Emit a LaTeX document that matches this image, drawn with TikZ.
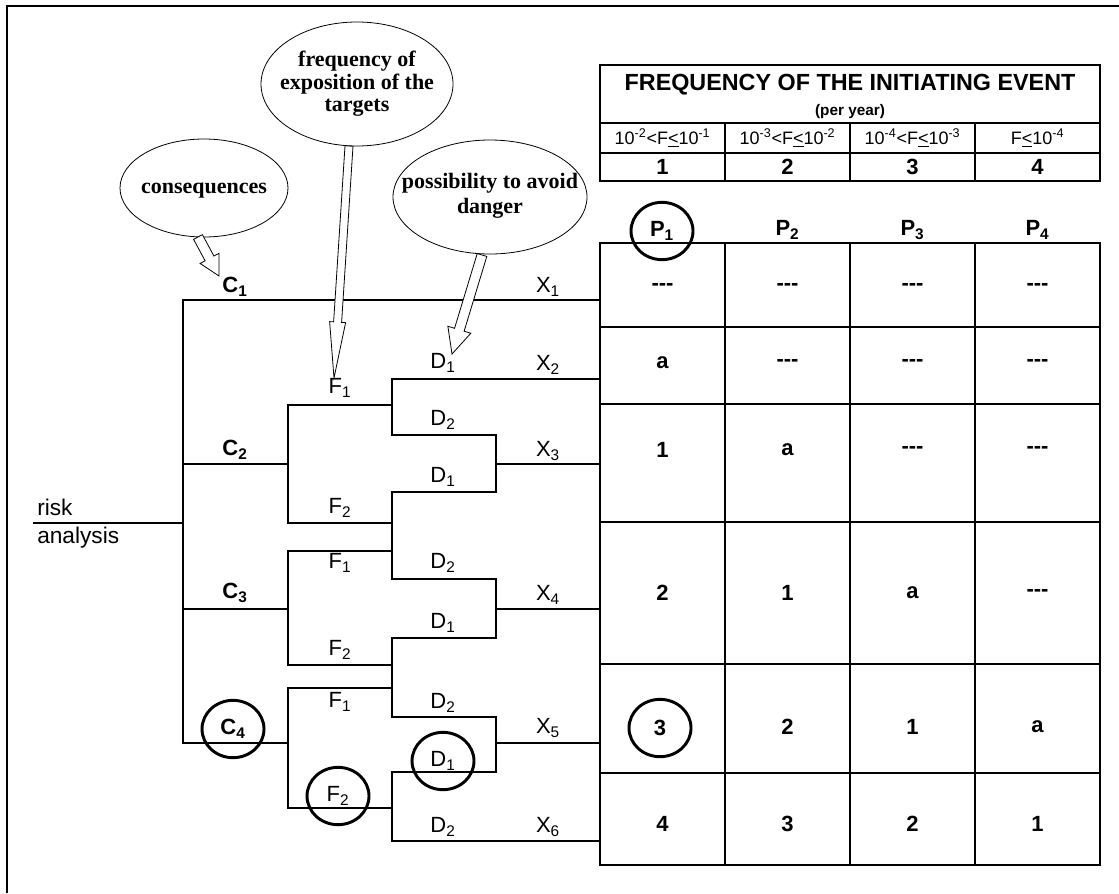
\documentclass[tikz,border=0pt]{standalone}
\usepackage{fontspec}
\setmainfont{Liberation Sans}
\newfontfamily\tms{Liberation Serif}
\usetikzlibrary{calc,shapes.geometric}
\newcommand\myfs[1]{\fontsize{#1}{#1}\selectfont}
\newcommand\myfsb[2]{\fontsize{#1}{#2}\selectfont}
\newcommand\dsh{-\kern0pt-\kern0pt-}
\newcommand\lee{\underline{<}}
\newcommand\blockarrow[5]{%
  \coordinate (bah) at ($(#2)!#5!(#1)$);
  \draw[harrow] ($(#1)!#3!90:(#2)$) -- ($(bah)!#3!90:(#2)$) -- ($(bah)!#4!90:(#2)$) -- (#2)
    -- ($(bah)!#4!-90:(#2)$) -- ($(bah)!#3!-90:(#2)$) -- ($(#1)!#3!-90:(#2)$) -- cycle;}
\tikzset{
  tree/.style={line width=1.8pt, line cap=rect},
  grid/.style={line width=1.5pt, line cap=rect},
  frame/.style={line width=2pt},
  lbl/.style={inner sep=0pt, font=\myfs{16.5}},
  blbl/.style={inner sep=0pt, font=\myfs{16.5}\bfseries},
  ring/.style={draw, ellipse, line width=2.2pt, minimum width=46.5pt, minimum height=43pt, inner sep=0pt},
  bubble/.style={inner sep=0pt, align=center, font=\tms\bfseries\myfs{16.5}},
  bubbleline/.style={line width=0.6pt},
  harrow/.style={draw, line width=0.6pt, fill=white},
  rng/.style={inner sep=0pt, font=\myfs{13.5}},
}
\begin{document}
\begin{tikzpicture}[x=0.75pt,y=-0.75pt]
\useasboundingbox (0,0) rectangle (1119,893);
% outer frame
\draw[frame] (7,893) -- (7,6) -- (1119,6);

% ---------- bubbles ----------
\node[bubble] (cons) at (204,191) {consequences};
\draw[bubbleline] (204,188) ellipse (84 and 49);
\node[bubble, font=\tms\bfseries\myfsb{16.5}{17}] (freq) at (357,84) {frequency of\\exposition of the\\targets};
\draw[bubbleline] (357,84) ellipse (96 and 62);
\node[bubble, font=\tms\bfseries\myfsb{16.5}{19}] (poss) at (490,196) {possibility to avoid\\danger};
\draw[bubbleline] (490,197) ellipse (97 and 57);

% ---------- tree ----------
\coordinate (cTop) at (183,300);
\coordinate (cBot) at (183,743);
\coordinate (riskL) at (34,523);
\coordinate (riskR) at (183,523);
\draw[tree] (riskL) -- (riskR);
\node[lbl, anchor=west, font=\myfs{17}] (risk) at (37,507) {risk};
\node[lbl, anchor=west, font=\myfs{17}] (analysis) at (37,538) {analysis};
\draw[tree] (cTop) -- (cBot);

% C1 branch
\coordinate (x1e) at (600,300);
\draw[tree] (cTop) -- (x1e);
% C branches
\draw[tree] (183,464) coordinate (c2s) -- (288,464) coordinate (c2e);
\draw[tree] (183,609) coordinate (c3s) -- (288,609) coordinate (c3e);
\draw[tree] (183,743) coordinate (c4s) -- (288,743) coordinate (c4e);
% F levels
\draw[tree] (392,405) -- (288,405) -- (288,523) -- (392,523);
\draw[tree] (392,551) -- (288,551) -- (288,665) -- (392,665);
\draw[tree] (392,688) -- (288,688) -- (288,808) -- (392,808);
% D levels
\draw[tree] (600,379) -- (392,379) -- (392,435) -- (496,435);
\draw[tree] (496,492) -- (392,492) -- (392,579) -- (496,579);
\draw[tree] (496,638) -- (392,638) -- (392,717) -- (496,717);
\draw[tree] (496,772) -- (392,772) -- (392,841) -- (600,841);
% X merges
\draw[tree] (496,435) -- (496,492);
\draw[tree] (496,464) -- (600,464);
\draw[tree] (496,579) -- (496,638);
\draw[tree] (496,609) -- (600,609);
\draw[tree] (496,717) -- (496,772);
\draw[tree] (496,743) -- (600,743);

% C labels
\node[blbl] (C1) at (235,287) {C\textsubscript{1}};
\node[blbl] (C2) at (235,450) {C\textsubscript{2}};
\node[blbl] (C3) at (235,593) {C\textsubscript{3}};
\node[blbl, ring] (C4) at (233,729) {C\textsubscript{4}};
% F labels
\node[lbl] (F1a) at (340,388) {F\textsubscript{1}};
\node[lbl] (F2a) at (340,508) {F\textsubscript{2}};
\node[lbl] (F1b) at (340,563) {F\textsubscript{1}};
\node[lbl] (F2b) at (340,650) {F\textsubscript{2}};
\node[lbl] (F1c) at (340,702) {F\textsubscript{1}};
\node[lbl, ring] (F2c) at (338,796) {F\textsubscript{2}};
% D labels
\node[lbl] (D1a) at (443,363) {D\textsubscript{1}};
\node[lbl] (D2a) at (443,420) {D\textsubscript{2}};
\node[lbl] (D1b) at (443,477) {D\textsubscript{1}};
\node[lbl] (D2b) at (443,563) {D\textsubscript{2}};
\node[lbl] (D1c) at (443,623) {D\textsubscript{1}};
\node[lbl] (D2c) at (443,703) {D\textsubscript{2}};
\node[lbl, ring] (D1d) at (443,761) {D\textsubscript{1}};
\node[lbl] (D2d) at (443,827) {D\textsubscript{2}};
% X labels
\node[lbl] (X1) at (548,287) {X\textsubscript{1}};
\node[lbl] (X2) at (548,365) {X\textsubscript{2}};
\node[lbl] (X3) at (548,451) {X\textsubscript{3}};
\node[lbl] (X4) at (548,595) {X\textsubscript{4}};
\node[lbl] (X5) at (548,728) {X\textsubscript{5}};
\node[lbl] (X6) at (548,827) {X\textsubscript{6}};

% ---------- block arrows ----------
\coordinate (consA) at (198,237);
\coordinate (consB) at (219,276);
\blockarrow{consA}{consB}{3.75pt}{8pt}{15pt}
\coordinate (freqA) at (349,146);
\coordinate (freqB) at (334,378);
\blockarrow{freqA}{freqB}{3pt}{6pt}{42pt}
\coordinate (possA) at (482,255);
\coordinate (possB) at (452,354);
\blockarrow{possA}{possB}{3.75pt}{9pt}{19pt}

% ---------- header table ----------
\draw[grid] (600,65) rectangle (1100,181);
\draw[grid] (600,123) -- (1100,123);
\draw[grid] (600,153) -- (1100,153);
\foreach \xx in {725,850,975} \draw[grid] (\xx,123) -- (\xx,181);
\node[inner sep=0pt, font=\bfseries\myfs{17.5}] (title) at (850,85) {FREQUENCY OF THE INITIATING EVENT};
\node[inner sep=0pt, font=\bfseries\myfs{11.5}] (peryear) at (850,112) {(per year)};
\node[rng] (r1) at (662.5,138) {10\textsuperscript{-2}<F\lee10\textsuperscript{-1}};
\node[rng] (r2) at (787.5,138) {10\textsuperscript{-3}<F\lee10\textsuperscript{-2}};
\node[rng] (r3) at (912.5,138) {10\textsuperscript{-4}<F\lee10\textsuperscript{-3}};
\node[rng] (r4) at (1037.5,138) {F\lee10\textsuperscript{-4}};
\node[blbl] (h1) at (662.5,167) {1};
\node[blbl] (h2) at (787.5,167) {2};
\node[blbl] (h3) at (912.5,167) {3};
\node[blbl] (h4) at (1037.5,167) {4};

% ---------- P labels ----------
\node[blbl, ring] (P1) at (662,231) {P\textsubscript{1}};
\node[blbl] (P2) at (787.5,230) {P\textsubscript{2}};
\node[blbl] (P3) at (912.5,230) {P\textsubscript{3}};
\node[blbl] (P4) at (1037.5,230) {P\textsubscript{4}};

% ---------- data table ----------
\foreach \yy in {243,327,404,522,664,773,865} \draw[grid] (600,\yy) -- (1100,\yy);
\foreach \xx in {600,725,850,975,1100} \draw[grid] (\xx,243) -- (\xx,865);

\node[blbl] (a11) at (662.5,287) {\dsh};
\node[blbl] (a12) at (787.5,287) {\dsh};
\node[blbl] (a13) at (912.5,287) {\dsh};
\node[blbl] (a14) at (1037.5,287) {\dsh};
\node[blbl] (a21) at (662.5,363) {a};
\node[blbl] (a22) at (787.5,363) {\dsh};
\node[blbl] (a23) at (912.5,363) {\dsh};
\node[blbl] (a24) at (1037.5,363) {\dsh};
\node[blbl] (a31) at (662.5,450) {1};
\node[blbl] (a32) at (787.5,450) {a};
\node[blbl] (a33) at (912.5,450) {\dsh};
\node[blbl] (a34) at (1037.5,450) {\dsh};
\node[blbl] (a41) at (662.5,593) {2};
\node[blbl] (a42) at (787.5,593) {1};
\node[blbl] (a43) at (912.5,593) {a};
\node[blbl] (a44) at (1037.5,593) {\dsh};
\node[blbl, ring] (a51) at (660,728) {3};
\node[blbl] (a52) at (787.5,727) {2};
\node[blbl] (a53) at (912.5,727) {1};
\node[blbl] (a54) at (1037.5,727) {a};
\node[blbl] (a61) at (662.5,824) {4};
\node[blbl] (a62) at (787.5,824) {3};
\node[blbl] (a63) at (912.5,824) {2};
\node[blbl] (a64) at (1037.5,824) {1};
\end{tikzpicture}
\end{document}
